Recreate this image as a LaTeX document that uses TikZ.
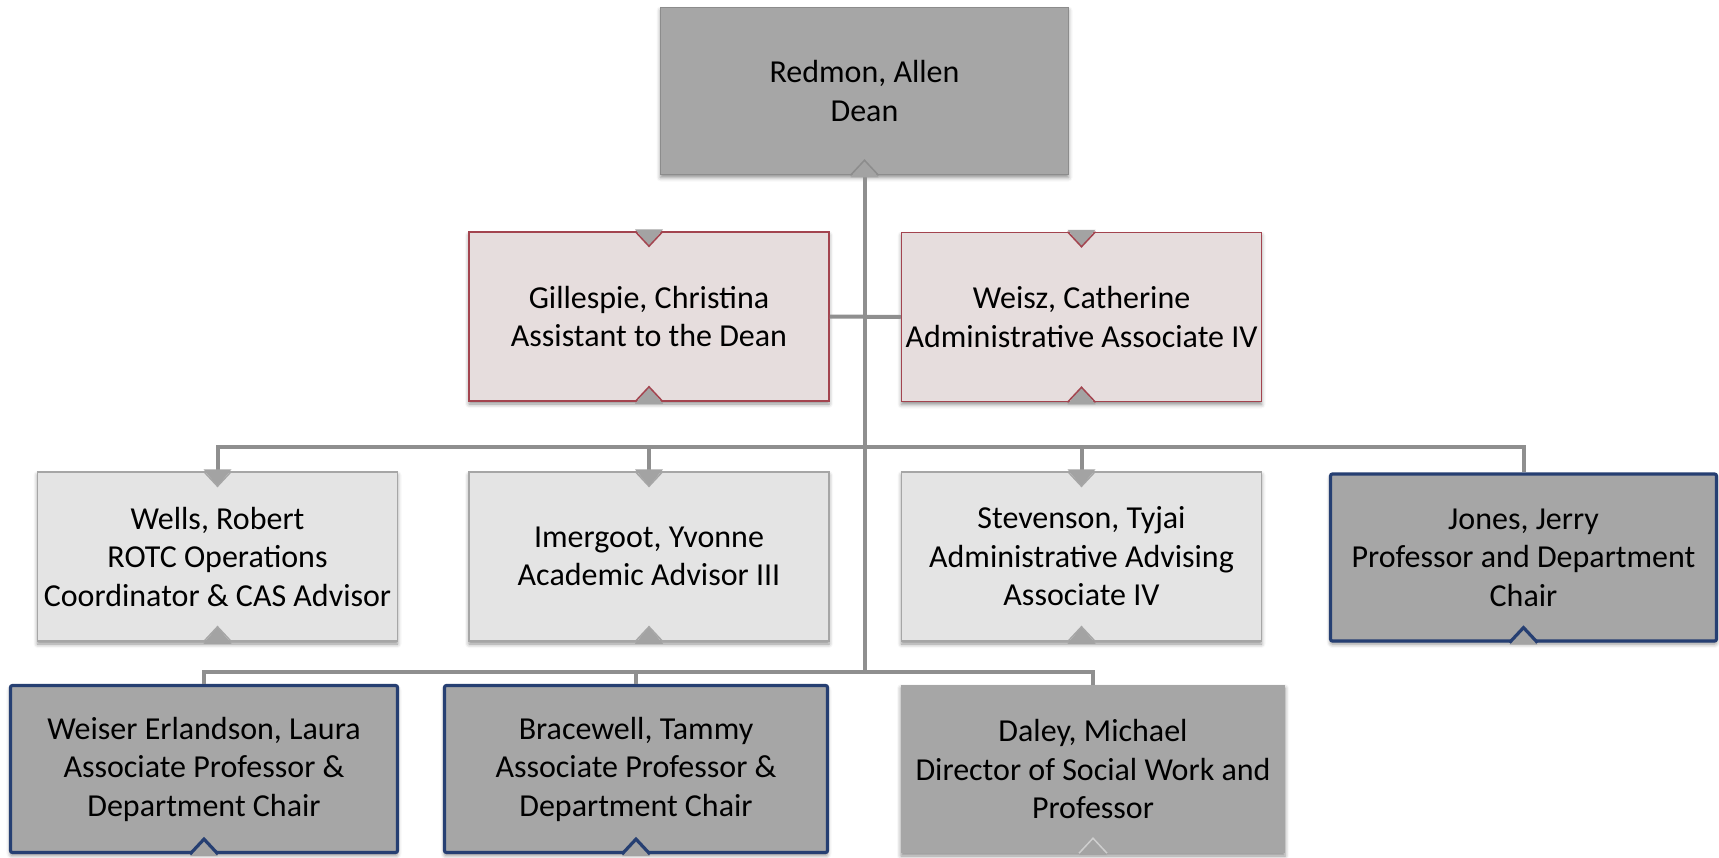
\documentclass[tikz,border=0pt]{standalone}
\usepackage{fontspec}
\setmainfont{Carlito}
\usetikzlibrary{calc,shadows.blur}
\definecolor{deanfill}{HTML}{A6A6A6}
\definecolor{deanline}{HTML}{8C8C8C}
\definecolor{pinkfill}{HTML}{E6DDDD}
\definecolor{pinkline}{HTML}{A3444F}
\definecolor{lightfill}{HTML}{E4E4E4}
\definecolor{lightline}{HTML}{A6A6A6}
\definecolor{blueline}{HTML}{263F72}
\definecolor{conn}{HTML}{8F8F8F}
\definecolor{notchfill}{HTML}{A3A3A3}
\tikzset{
  box/.style={rectangle, align=center, inner sep=0pt, text=black,
    font=\fontsize{32}{38.5}\selectfont,
    blur shadow={shadow xshift=0pt, shadow yshift=-3pt, shadow blur radius=4pt, shadow opacity=45}},
  deanbox/.style={box, fill=deanfill, draw=deanline, line width=1.5pt, minimum width=408pt, minimum height=167pt},
  pinkbox/.style={box, fill=pinkfill, draw=pinkline, line width=1.5pt, minimum width=360pt, minimum height=169pt},
  lightbox/.style={box, fill=lightfill, draw=lightline, line width=1.5pt, minimum width=360pt, minimum height=169pt},
  bluebox/.style={box, fill=deanfill, draw=blueline, line width=3.2pt, rounded corners=2pt, minimum height=167pt},
  plainbox/.style={box, fill=deanfill, minimum height=168pt},
  connector/.style={draw=conn, line width=4pt}
}
\newcommand\mytopnotch[3]{%
  \fill[notchfill] ($(#1.north)+(-14,2)$) -- ($(#1.north)+(0,-15)$) -- ($(#1.north)+(14,2)$) -- cycle;
  \draw[#2, line width=#3] ($(#1.north)+(-14,0)$) -- ($(#1.north)+(0,-15)$) -- ($(#1.north)+(14,0)$);}
\newcommand\mybotnotch[3]{%
  \fill[notchfill] ($(#1.south)+(-14,-2)$) -- ($(#1.south)+(0,15)$) -- ($(#1.south)+(14,-2)$) -- cycle;
  \draw[#2, line width=#3, line join=miter] ($(#1.south)+(-14,0)$) -- ($(#1.south)+(0,15)$) -- ($(#1.south)+(14,0)$);}
\begin{document}
\begin{tikzpicture}[x=1pt,y=1pt]
\useasboundingbox (0,0) rectangle (1719,-857);
% nodes
\node[deanbox] (dean) at (864.5,-91) {Redmon, Allen\\Dean};
\node[pinkbox] (gil) at (649,-316.5) {Gillespie, Christina\\Assistant to the Dean};
\node[pinkbox] (weisz) at (1081.5,-317) {Weisz, Catherine\\Administrative Associate IV};
\node[lightbox] (wells) at (217.5,-556.5) {Wells, Robert\\ROTC Operations\\Coordinator \& CAS Advisor};
\node[lightbox] (imer) at (649,-556.5) {Imergoot, Yvonne\\Academic Advisor III};
\node[lightbox] (stev) at (1081.5,-556.5) {Stevenson, Tyjai\\Administrative Advising\\Associate IV};
\node[bluebox, minimum width=386pt] (jones) at (1523.5,-557.5) {Jones, Jerry\\Professor and Department\\Chair};
\node[bluebox, minimum width=387pt] (weiser) at (204,-769) {Weiser Erlandson, Laura\\Associate Professor \&\\Department Chair};
\node[bluebox, minimum width=383pt] (brace) at (636,-769) {Bracewell, Tammy\\Associate Professor \&\\Department Chair};
\node[plainbox, minimum width=384pt] (daley) at (1093,-769) {Daley, Michael\\Director of Social Work and\\Professor};
% connector junctions
\coordinate (bus1) at (dean.south |- 0,-447);
\coordinate (bus2) at (dean.south |- 0,-672);
% connectors
\draw[connector] (dean.south) -- (bus2);
\draw[connector] (gil.east) -- (weisz.west);
\draw[connector] (wells.north) |- (bus1) -| (jones.north);
\draw[connector] (imer.north) -- (imer.north |- bus1);
\draw[connector] (stev.north) -- (stev.north |- bus1);
\draw[connector] (weiser.north) |- (bus2) -| (daley.north);
\draw[connector] (brace.north) -- (brace.north |- bus2);
% notches
\mybotnotch{dean}{deanline}{1.5pt}
\mytopnotch{gil}{pinkline}{1.5pt}
\mybotnotch{gil}{pinkline}{1.5pt}
\mytopnotch{weisz}{pinkline}{1.5pt}
\mybotnotch{weisz}{pinkline}{1.5pt}
\mytopnotch{wells}{lightline}{1.5pt}
\mybotnotch{wells}{lightline}{1.5pt}
\mytopnotch{imer}{lightline}{1.5pt}
\mybotnotch{imer}{lightline}{1.5pt}
\mytopnotch{stev}{lightline}{1.5pt}
\mybotnotch{stev}{lightline}{1.5pt}
\mybotnotch{jones}{blueline}{3.2pt}
\mybotnotch{weiser}{blueline}{3.2pt}
\mybotnotch{brace}{blueline}{3.2pt}
\mybotnotch{daley}{white!45!deanfill}{1.5pt}
\end{tikzpicture}
\end{document}
